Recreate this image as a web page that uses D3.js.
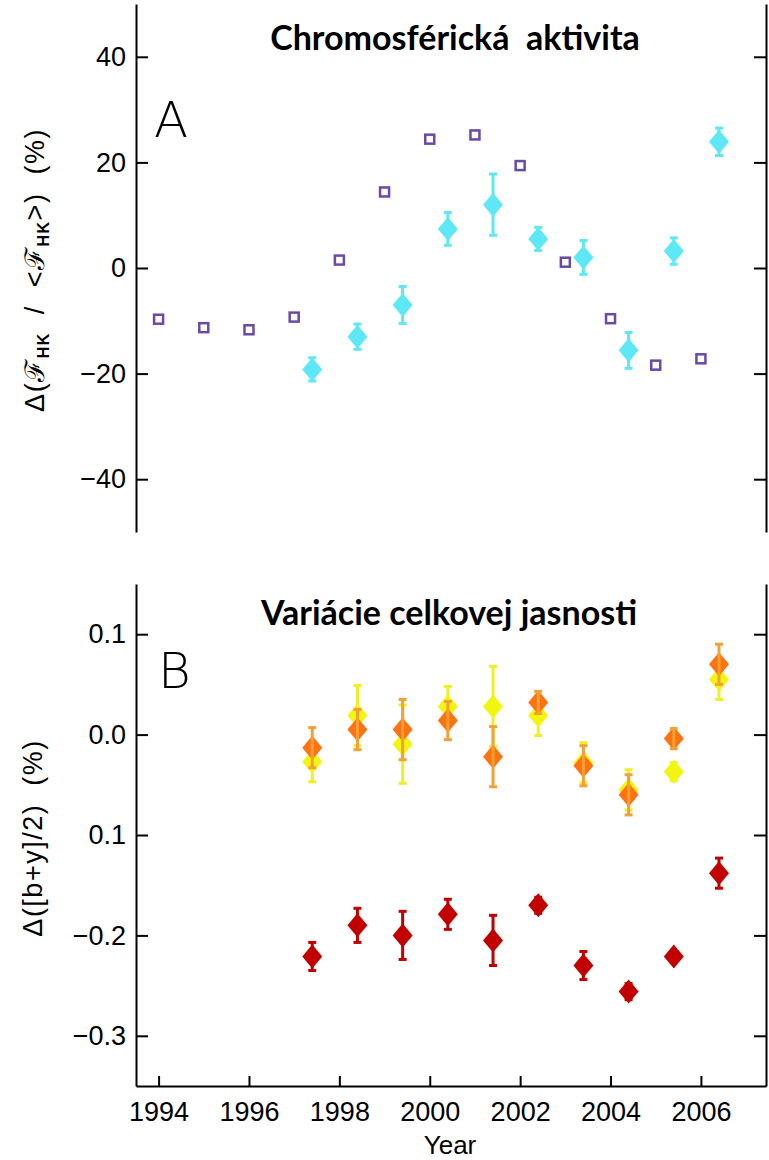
<!DOCTYPE html>
<html>
<head>
<meta charset="utf-8">
<script src="https://cdn.jsdelivr.net/npm/d3@7"></script>
<style>
  body { margin: 0; background: #fff; }
  svg { display: block; }
  .axis path, .axis line { stroke: #000; stroke-width: 2; }
  .axis text { font-family: "Liberation Sans", Arial, sans-serif; font-size: 27px; fill: #000; }
  .title { font-family: Lato, "Open Sans", sans-serif; font-weight: 700; font-size: 34px; }
  .panel { font-family: "DejaVu Sans", sans-serif; font-weight: 200; font-size: 50px; }
  .ylab { font-family: "Liberation Sans", Arial, sans-serif; font-size: 27px; letter-spacing: 1.5px; }
</style>
</head>
<body>
<div id="chart"></div>
<script>
// years and values
const squareYears = [1994, 1995, 1996, 1997, 1998, 1999, 2000, 2001, 2002, 2003, 2004, 2005, 2006];
const squareVals = [-9.7, -11.3, -11.7, -9.3, 1.5, 14.4, 24.4, 25.2, 19.4, 1.1, -9.6, -18.4, -17.2];

const obsYears = [1997.4, 1998.4, 1999.4, 2000.4, 2001.4, 2002.4, 2003.4, 2004.4, 2005.4, 2006.4];
const cyanVals = [-19.2, -13.0, -7.0, 7.4, 12.0, 5.5, 2.0, -15.6, 3.2, 23.9];
const cyanErr = [2.2, 2.4, 3.5, 3.1, 5.8, 2.2, 3.2, 3.4, 2.5, 2.6];

const yellowVals = [-0.027, 0.019, -0.0095, 0.028, 0.028, 0.019, -0.028, -0.055, -0.037, 0.055];
const yellowErr = [0.020, 0.030, 0.039, 0.020, 0.040, 0.020, 0.020, 0.020, 0.009, 0.020];
const orangeVals = [-0.013, 0.005, 0.005, 0.014, -0.022, 0.032, -0.031, -0.060, -0.004, 0.070];
const orangeErr = [0.020, 0.020, 0.030, 0.019, 0.030, 0.011, 0.020, 0.020, 0.010, 0.020];
const redVals = [-0.221, -0.190, -0.200, -0.179, -0.205, -0.170, -0.230, -0.256, -0.221, -0.138];
const redErr = [0.014, 0.017, 0.024, 0.015, 0.025, 0.008, 0.014, 0.008, 0.004, 0.015];

const yearTicks = [1994, 1996, 1998, 2000, 2002, 2004, 2006];
const topTicks = [-40, -20, 0, 20, 40];
const botTicks = [0.1, 0.0, -0.1, -0.2, -0.3];
const botTickLabels = ['0.1', '0.0', '0.1', '\u22120.2', '\u22120.3'];

const width = 769, height = 1160;
const left = 136, right = 766;

const svg = d3.select('#chart').append('svg')
    .attr('width', width)
    .attr('height', height);

const x = d3.scaleLinear().domain([1993.5, 2007.44]).range([left, right]);
const yTop = d3.scaleLinear().domain([-50, 50]).range([532, 4]);
const yBot = d3.scaleLinear().domain([-0.35, 0.15]).range([1086, 584]);

function diamond(w, h) {
    return `M0,${-h}L${w},0L0,${h}L${-w},0Z`;
}

function errorSeries(g, y, vals, errs, fill, errColor, errOnTop) {
    const s = g.append('g');
    const drawErr = () => {
        const e = s.append('g').selectAll('g').data(vals).enter().append('g')
            .attr('stroke', errColor).attr('stroke-width', 3);
        e.append('line')
            .attr('x1', (d, i) => x(obsYears[i])).attr('x2', (d, i) => x(obsYears[i]))
            .attr('y1', (d, i) => y(d + errs[i])).attr('y2', (d, i) => y(d - errs[i]));
        e.append('line')
            .attr('x1', (d, i) => x(obsYears[i]) - 4).attr('x2', (d, i) => x(obsYears[i]) + 4)
            .attr('y1', (d, i) => y(d + errs[i])).attr('y2', (d, i) => y(d + errs[i]));
        e.append('line')
            .attr('x1', (d, i) => x(obsYears[i]) - 4).attr('x2', (d, i) => x(obsYears[i]) + 4)
            .attr('y1', (d, i) => y(d - errs[i])).attr('y2', (d, i) => y(d - errs[i]));
    };
    if (!errOnTop) drawErr();
    s.append('g').selectAll('path').data(vals).enter().append('path')
        .attr('d', diamond(10, 12))
        .attr('transform', (d, i) => `translate(${x(obsYears[i])},${y(d)})`)
        .attr('fill', fill);
    if (errOnTop) drawErr();
}

// ---------- panel A ----------
const gA = svg.append('g');

gA.append('g').attr('class', 'axis')
    .attr('transform', `translate(${left},0)`)
    .call(d3.axisLeft(yTop).tickValues(topTicks).tickSize(-12).tickSizeOuter(0).tickPadding(10));
gA.append('g').attr('class', 'axis')
    .attr('transform', `translate(${right},0)`)
    .call(d3.axisRight(yTop).tickValues(topTicks).tickSize(-12).tickSizeOuter(0).tickFormat(''));

gA.append('g').selectAll('rect').data(squareVals).enter().append('rect')
    .attr('x', (d, i) => x(squareYears[i]) - 4.5)
    .attr('y', d => yTop(d) - 4.5)
    .attr('width', 9).attr('height', 9)
    .attr('fill', '#fff')
    .attr('stroke', '#6a4aa8')
    .attr('stroke-width', 2.5);

errorSeries(gA, yTop, cyanVals, cyanErr, '#5ee8f6', '#5ee8f6', false);

gA.append('text').attr('class', 'title')
    .attr('x', 455).attr('y', 50).attr('text-anchor', 'middle')
    .attr('xml:space', 'preserve')
    .text('Chromosférická  aktivita');
gA.append('text').attr('class', 'panel').attr('x', 154).attr('y', 137).text('A');

const labA = gA.append('text').attr('class', 'ylab')
    .attr('transform', 'translate(44,270) rotate(-90)')
    .attr('text-anchor', 'middle')
    .attr('xml:space', 'preserve');
labA.append('tspan').text('\u0394(\u2131');
labA.append('tspan').attr('font-size', 16).attr('font-weight', 700).attr('dy', 5).text('HK');
labA.append('tspan').attr('dy', -5).text('  /  <\u2131');
labA.append('tspan').attr('font-size', 16).attr('font-weight', 700).attr('dy', 5).text('HK');
labA.append('tspan').attr('dy', -5).text('>)  (%)');

// ---------- panel B ----------
const gB = svg.append('g');

gB.append('g').attr('class', 'axis')
    .attr('transform', `translate(${left},0)`)
    .call(d3.axisLeft(yBot).tickValues(botTicks).tickSize(-12).tickSizeOuter(0).tickPadding(10)
        .tickFormat((d, i) => botTickLabels[i]));
gB.append('g').attr('class', 'axis')
    .attr('transform', `translate(${right},0)`)
    .call(d3.axisRight(yBot).tickValues(botTicks).tickSize(-12).tickSizeOuter(0).tickFormat(''));
gB.append('g').attr('class', 'axis')
    .attr('transform', `translate(0,${yBot(-0.35)})`)
    .call(d3.axisBottom(x).tickValues(yearTicks).tickSize(-10).tickSizeOuter(0).tickPadding(16)
        .tickFormat(d3.format('d')));

errorSeries(gB, yBot, yellowVals, yellowErr, '#f2f50f', '#eef024', false);
errorSeries(gB, yBot, orangeVals, orangeErr, '#ff7210', '#f5a035', true);
errorSeries(gB, yBot, redVals, redErr, '#c20000', '#c20000', false);

gB.append('text').attr('class', 'title')
    .attr('x', 449).attr('y', 625).attr('text-anchor', 'middle')
    .text('Variácie celkovej jasnosti');
gB.append('text').attr('class', 'panel').attr('x', 158).attr('y', 688).text('B');

gB.append('text').attr('class', 'ylab')
    .attr('transform', 'translate(42,838) rotate(-90)')
    .attr('text-anchor', 'middle')
    .attr('xml:space', 'preserve')
    .text('\u0394([b+y]/2)  (%)');

svg.append('text')
    .attr('x', 450).attr('y', 1154)
    .attr('text-anchor', 'middle')
    .attr('font-family', '"Liberation Sans", Arial, sans-serif')
    .attr('font-size', 26)
    .text('Year');
</script>
</body>
</html>
